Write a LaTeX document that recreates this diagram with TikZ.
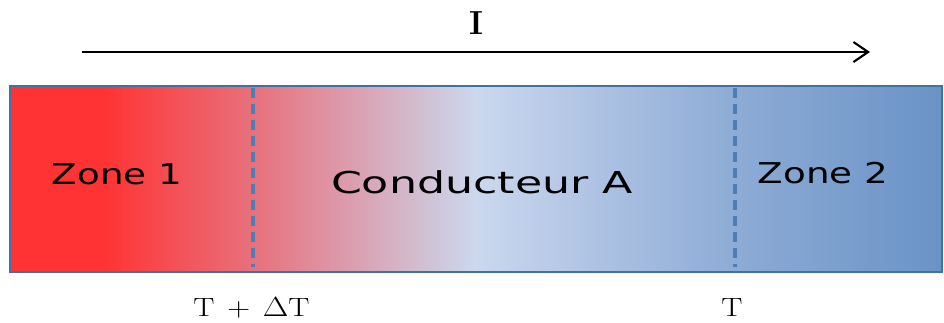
\documentclass[tikz,border=0pt]{standalone}
\usepackage{fontspec}
\newfontfamily\zonefont{DejaVu Sans}
\usetikzlibrary{arrows.meta}

\definecolor{chaud}{HTML}{FF3333}
\definecolor{tiede}{HTML}{E8707C}
\definecolor{pale}{HTML}{CBD8EE}
\definecolor{bleuclair}{HTML}{A9BFE1}
\definecolor{bleumoyen}{HTML}{8DABD5}
\definecolor{froid}{HTML}{6A93C6}
\definecolor{bord}{HTML}{41719C}
\definecolor{limite}{HTML}{4A7EBB}

% degrade du conducteur (rouge -> bleu)
\pgfdeclarehorizontalshading{thermo}{100bp}{color(0bp)=(chaud); color(25bp)=(chaud);
  color(30bp)=(chaud); color(38bp)=(tiede); color(50bp)=(pale);
  color(57.5bp)=(bleuclair); color(64bp)=(bleumoyen); color(75bp)=(froid); color(100bp)=(froid)}

\newcommand{\wide}[2][1.3]{\scalebox{#1}[1]{#2}}

\begin{document}
\begin{tikzpicture}[x=0.75pt,y=-0.75pt,
    zone/.style={inner sep=0pt, font=\zonefont\fontsize{21.5}{25}\selectfont},
    temp/.style={inner sep=0pt, font=\fontsize{19.8}{24}\selectfont},
    frontiere/.style={limite, line width=2.8pt, dash pattern=on 7.5pt off 4.5pt}]
    \useasboundingbox (0,0) rectangle (944,322);

    % Barre (conducteur A)
    \shade[shading=thermo] (10,86) rectangle (942,272);
    \draw[bord, line width=1.5pt] (10,86) rectangle (942,272);

    % Frontieres des zones
    \coordinate (f1h) at (253,88);
    \coordinate (f1b) at (253,267);
    \coordinate (f2h) at (735,88);
    \coordinate (f2b) at (735,267);
    \draw[frontiere] (f1h) -- (f1b);
    \draw[frontiere] (f2h) -- (f2b);

    % Textes dans la barre
    \node[zone] (zone1) at (117,174) {\wide{Zone 1}};
    \node[zone, font=\zonefont\fontsize{22.6}{27}\selectfont] (cond) at (482,182) {\wide[1.47]{Conducteur A}};
    \node[zone] (zone2) at (823,173) {\wide{Zone 2}};

    % Courant I
    \coordinate (depart) at (82,52);
    \coordinate (arrivee) at (870,52);
    \draw[line width=1.6pt, -{Straight Barb[length=11pt,width=15pt,line width=1.6pt]}] (depart) -- (arrivee);
    \node[inner sep=0pt, font=\bfseries\fontsize{25}{30}\selectfont] (courant) at (476,23) {I};

    % Temperatures
    \node[temp] (tchaud) at (251.5,308) {\wide[1.2]{T\hspace{0.4em}+\hspace{0.4em}$\Delta$T}};
    \node[temp] (tfroid) at (732,308) {\wide[1.2]{T}};

\end{tikzpicture}
\end{document}
